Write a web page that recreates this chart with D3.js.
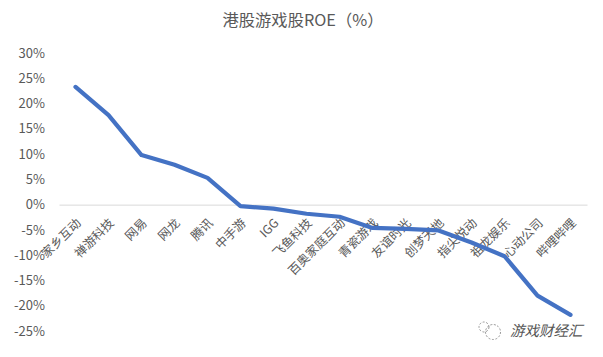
<!DOCTYPE html>
<html>
<head>
<meta charset="utf-8">
<script src="https://d3js.org/d3.v7.min.js"></script>
<style>
    html, body { margin: 0; padding: 0; background: #fff; }
    text { font-family: "Noto Sans CJK SC", "Noto Sans", sans-serif; }
</style>
</head>
<body>
<div id="chart"></div>
<script>
// Hong Kong listed game companies, ROE
const companies = ["家乡互动", "禅游科技", "网易", "网龙", "腾讯", "中手游", "IGG", "飞鱼科技",
    "百奥家庭互动", "青瓷游戏", "友谊时光", "创梦天地", "指尖悦动", "祖龙娱乐", "心动公司", "哔哩哔哩"];
const roeValues = [23.3, 17.7, 9.8, 7.9, 5.3, -0.3, -0.8, -1.8, -2.4, -4.6, -4.8, -5.1, -7.5, -10.2, -18.0, -21.8];
const yTicks = [30, 25, 20, 15, 10, 5, 0, -5, -10, -15, -20, -25];

const chartTitle = "港股游戏股ROE（%）";
const watermark = "游戏财经汇";

const width = 603, height = 357;
const margin = { top: 53, right: 16, bottom: 26, left: 59 };

const svg = d3.select("#chart")
    .append("svg")
    .attr("width", width)
    .attr("height", height)
    .style("display", "block");

// Scales
const xScale = d3.scaleBand()
    .domain(companies)
    .range([margin.left, width - margin.right]);

const yScale = d3.scaleLinear()
    .domain([-25, 30])
    .range([height - margin.bottom, margin.top]);

// Title
svg.append("text")
    .attr("x", 303)
    .attr("y", 26)
    .attr("text-anchor", "middle")
    .attr("font-size", "16.3px")
    .attr("fill", "#595959")
    .text(chartTitle);

// Y axis, labels only
const yAxis = svg.append("g")
    .attr("transform", `translate(${margin.left},0)`)
    .call(d3.axisLeft(yScale).tickValues(yTicks).tickSize(0).tickPadding(14).tickFormat(d => d + "%"));
yAxis.select(".domain").remove();
yAxis.selectAll("text")
    .attr("font-size", "13px")
    .attr("fill", "#595959");

// X axis sits on the zero line, labels rotated
const xAxis = svg.append("g")
    .attr("transform", `translate(0,${yScale(0)})`)
    .call(d3.axisBottom(xScale).tickSize(0));
xAxis.select(".domain").attr("stroke", "#d9d9d9").attr("stroke-width", 1);
xAxis.selectAll("text")
    .attr("font-size", "12.3px")
    .attr("fill", "#595959")
    .attr("text-anchor", "end")
    .attr("transform", "translate(0,13) rotate(-45)")
    .attr("dx", 0)
    .attr("dy", "0.7em")
    .attr("y", 0);

// ROE line
const line = d3.line()
    .x((d, i) => xScale(companies[i]) + xScale.bandwidth() / 2)
    .y(d => yScale(d));

svg.append("path")
    .datum(roeValues)
    .attr("fill", "none")
    .attr("stroke", "#4472c4")
    .attr("stroke-width", 4.2)
    .attr("stroke-linejoin", "round")
    .attr("stroke-linecap", "round")
    .attr("d", line);

// WeChat watermark
const mark = svg.append("g").attr("transform", "translate(490,330)");
[[-6, -3, 5], [3, 2, 7.5]].forEach(c => {
    mark.append("circle")
        .attr("cx", c[0])
        .attr("cy", c[1])
        .attr("r", c[2])
        .attr("fill", "none")
        .attr("stroke", "#8a8a8a")
        .attr("stroke-width", 0.9)
        .attr("stroke-dasharray", "2,1.6");
});
svg.append("text")
    .attr("x", 510)
    .attr("y", 336)
    .attr("font-size", "14.5px")
    .attr("font-style", "italic")
    .attr("fill", "#555")
    .text(watermark);
</script>
</body>
</html>
